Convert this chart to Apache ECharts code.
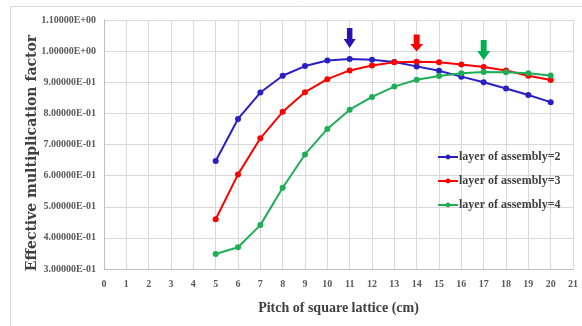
<!DOCTYPE html>
<html><head><meta charset="utf-8">
<script src="https://cdn.jsdelivr.net/npm/echarts@6/dist/echarts.min.js"></script>
<style>html,body{margin:0;padding:0;background:#fff}#c{width:582px;height:326px}</style>
</head><body><div id="c"></div>
<script>
var pitch = [5,6,7,8,9,10,11,12,13,14,15,16,17,18,19,20];
var layer2 = [0.647,0.782,0.867,0.921,0.952,0.970,0.975,0.972,0.965,0.951,0.937,0.918,0.900,0.880,0.859,0.836];
var layer3 = [0.460,0.604,0.720,0.805,0.868,0.910,0.938,0.954,0.964,0.966,0.964,0.957,0.949,0.938,0.921,0.907];
var layer4 = [0.348,0.370,0.441,0.561,0.668,0.750,0.812,0.853,0.886,0.908,0.920,0.929,0.933,0.932,0.929,0.922];
var seriesNames = ['layer of assembly=2','layer of assembly=3','layer of assembly=4'];
var colors = ['#2a1fc4','#ff0000','#1fae57'];
var arrowColors = ['#2b10b2','#ff0000','#00b050'];
var arrowX = [11,14,17];
var arrowY = [1.042,1.026,1.0035];
var arrowSizes = [[12,20],[13,17],[13,20]];
var xTitle = 'Pitch of square lattice (cm)';
var yTitle = 'Effective multiplication factor';

function fmtE(v){
  var s = v.toExponential(5).toUpperCase();
  var m = s.match(/^(.*)E([+-])(\d+)$/);
  var e = m[3].length < 2 ? '0' + m[3] : m[3];
  return m[1] + 'E' + m[2] + e;
}
var arrowPath = 'path://M3,0 L8,0 L8,11 L11,11 L5.5,20 L0,11 L3,11 Z';
var datas = [layer2, layer3, layer4];
var font = 'Liberation Serif';
var series = datas.map(function(d, i){
  return {
    name: seriesNames[i], type: 'line',
    data: pitch.map(function(x, j){ return [x, d[j]]; }),
    symbol: 'circle', symbolSize: 6, showSymbol: true,
    lineStyle: {color: colors[i], width: 2},
    itemStyle: {color: colors[i]},
    animation: false,
    markPoint: {
      symbol: arrowPath, symbolSize: arrowSizes[i],
      itemStyle: {color: arrowColors[i]},
      label: {show: false},
      data: [{coord: [arrowX[i], arrowY[i]]}]
    }
  };
});
var chart = echarts.init(document.getElementById('c'));
chart.setOption({
  animation: false,
  graphic: [{type: 'polyline', shape: {points: [[10.5,326],[10.5,6.5],[582,6.5]]}, style: {stroke: '#d9d9d9', lineWidth: 1, fill: null}}],
  grid: {left: 104, right: 9, top: 20, bottom: 57},
  legend: {
    orient: 'vertical', left: 432, top: 145, itemGap: 10, itemWidth: 20, itemHeight: 6,
    data: seriesNames,
    textStyle: {fontFamily: font, fontWeight: 'bold', fontSize: 12, color: '#404040', padding: [0,0,0,-4], lineHeight: 14}
  },
  xAxis: {
    type: 'value', min: 0, max: 21, interval: 1,
    name: xTitle, nameLocation: 'middle', nameGap: 32, nameMoveOverlap: false,
    nameTextStyle: {fontFamily: font, fontWeight: 'bold', fontSize: 14, color: '#404040'},
    axisLine: {show: true, lineStyle: {color: '#bfbfbf'}},
    axisTick: {show: false},
    axisLabel: {fontFamily: font, fontWeight: 'bold', fontSize: 10, color: '#595959', margin: 10},
    splitLine: {show: true, lineStyle: {color: '#d9d9d9'}}
  },
  yAxis: {
    type: 'value', min: 0.3, max: 1.1, interval: 0.1,
    name: yTitle, nameLocation: 'middle', nameGap: 65, nameMoveOverlap: false,
    nameTextStyle: {fontFamily: 'DejaVu Serif', fontWeight: 'bold', fontSize: 14, color: '#404040', padding: [0,17,0,0]},
    axisLine: {show: true, lineStyle: {color: '#bfbfbf'}},
    axisTick: {show: false},
    axisLabel: {fontFamily: font, fontWeight: 'bold', fontSize: 10, color: '#595959', margin: 8, formatter: fmtE},
    splitLine: {show: true, lineStyle: {color: '#d9d9d9'}}
  },
  series: series
});
</script></body></html>
